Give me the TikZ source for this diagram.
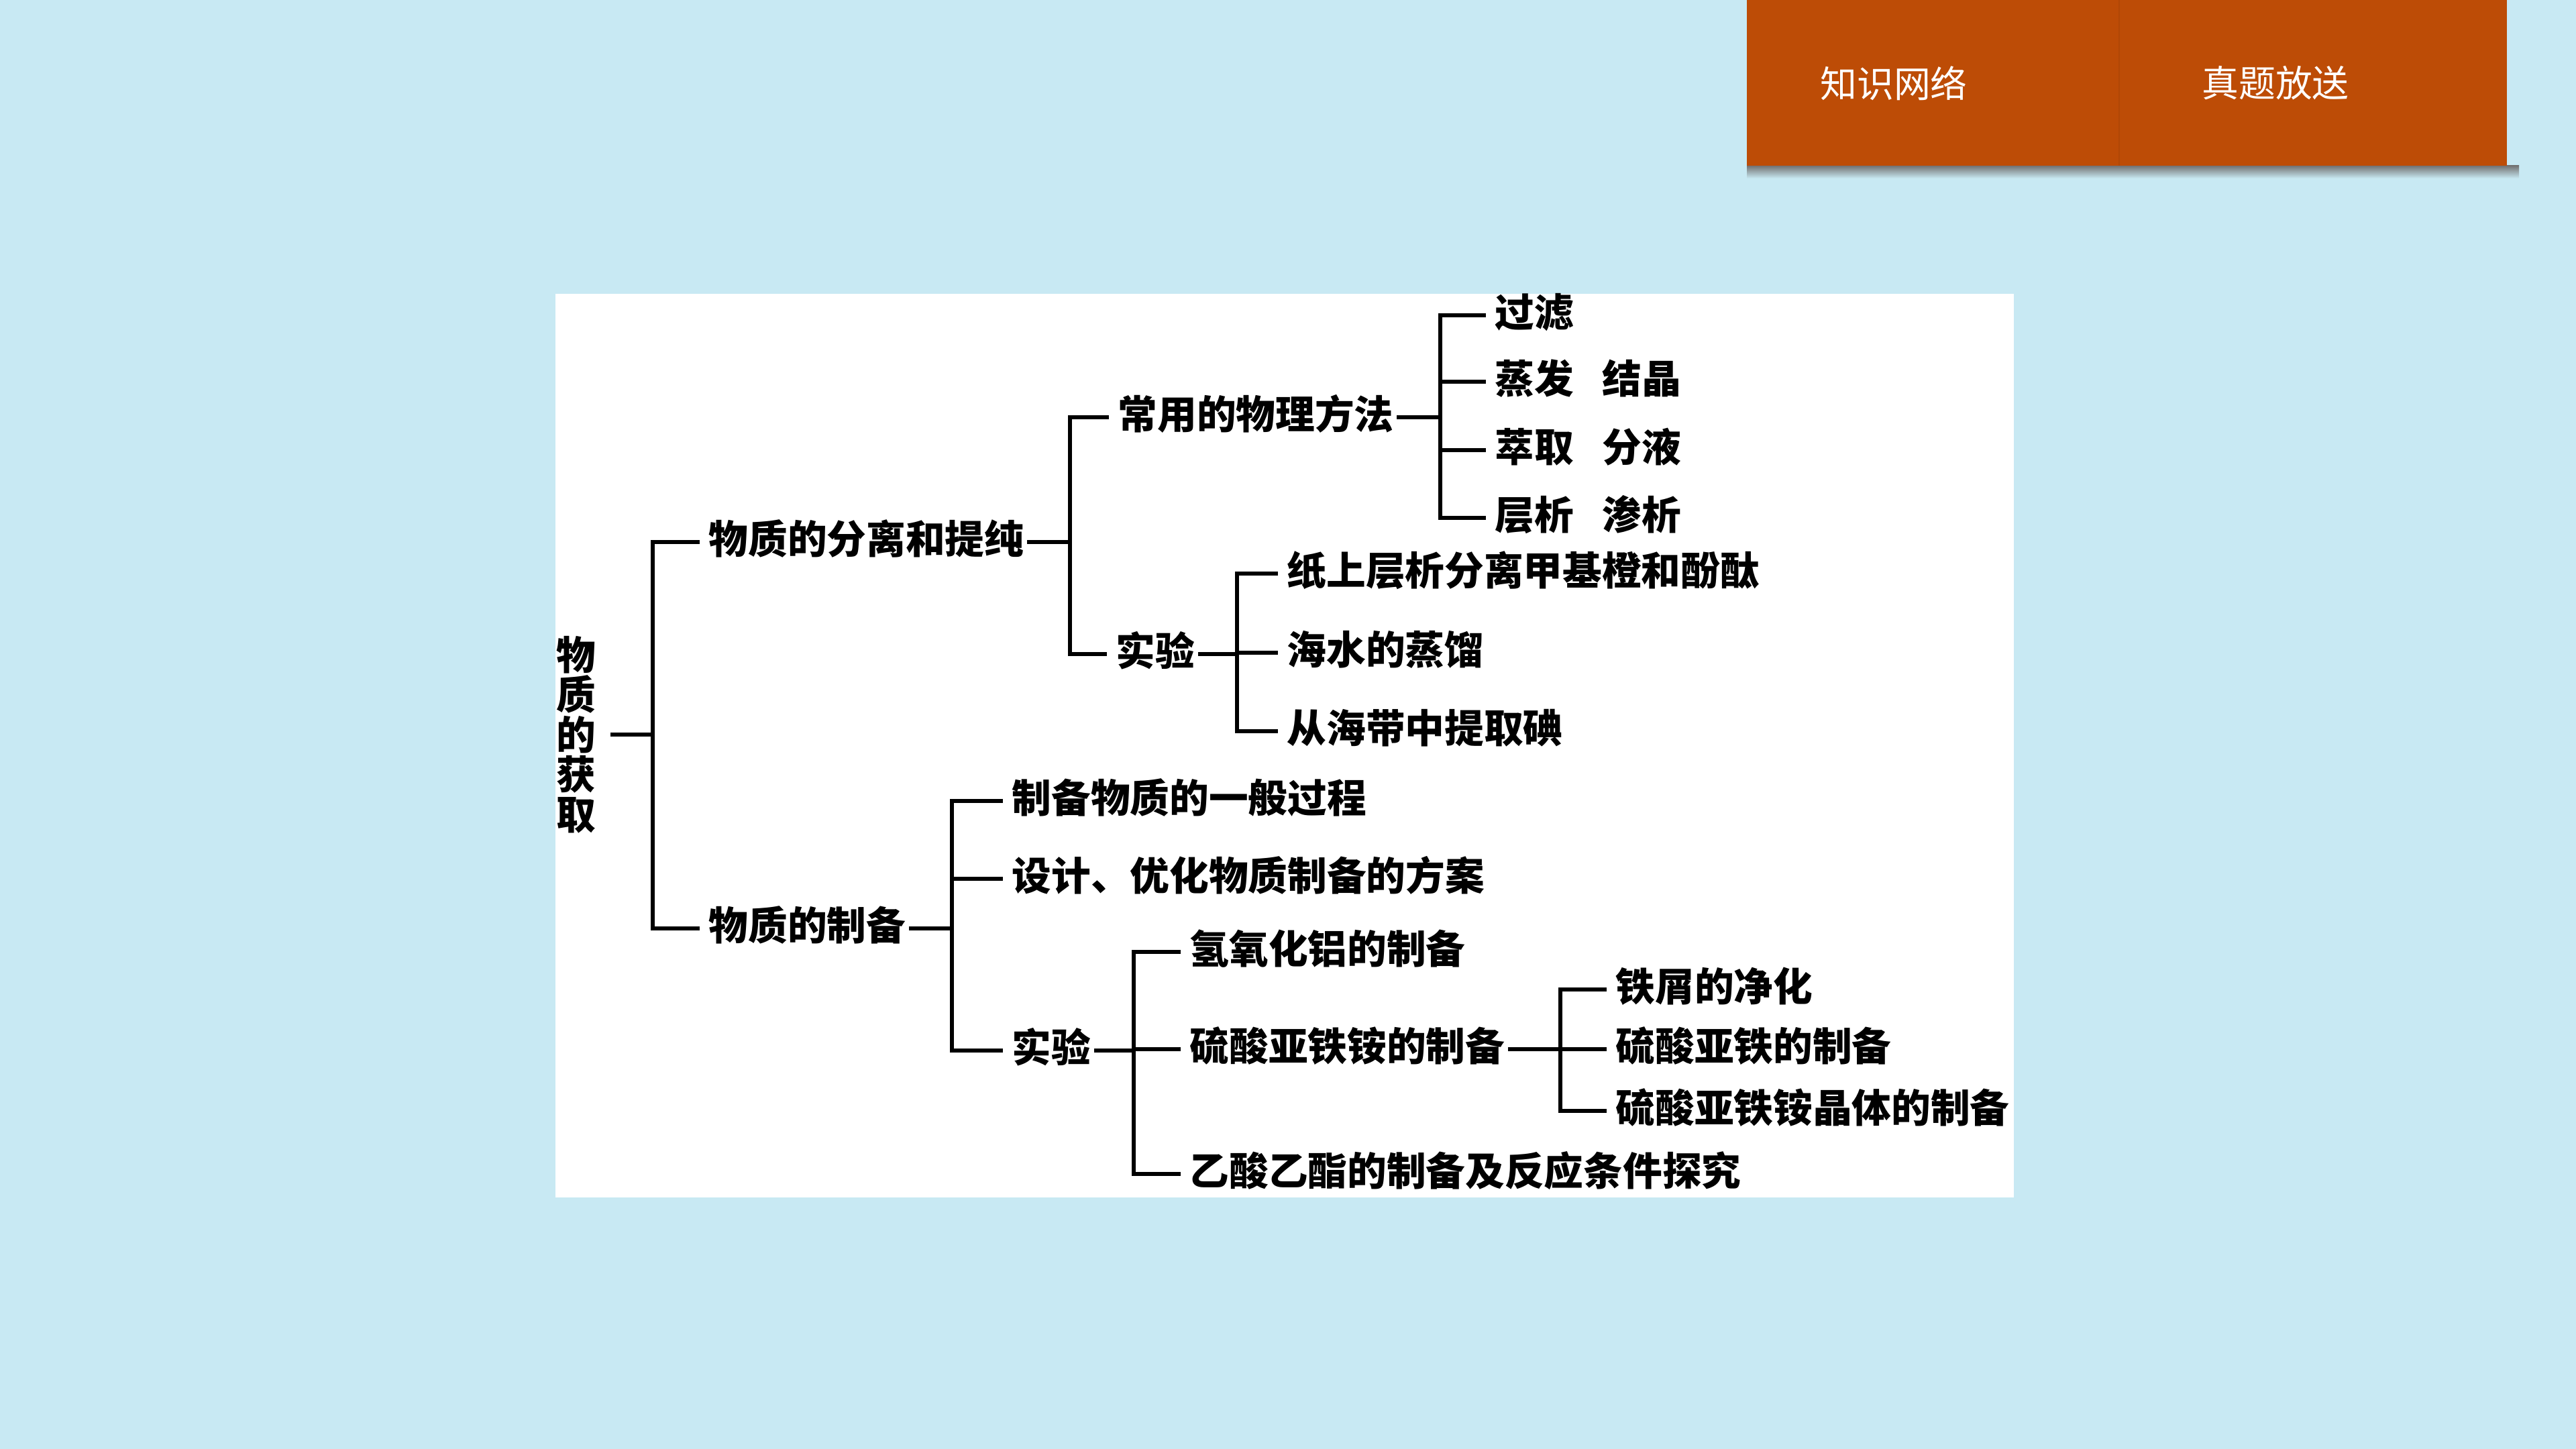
\documentclass[tikz,border=0pt]{standalone}
\usepackage{fontspec}
\setmainfont{Noto Sans CJK SC}
\usepackage{xcolor}
\usepackage{tikz}
\usetikzlibrary{positioning,calc}
\definecolor{bgblue}{RGB}{200,233,243}
\definecolor{taborange}{RGB}{189,76,6}

\begin{document}
\begin{tikzpicture}[
    every node/.style={inner sep=0pt},
    item/.style={anchor=west, font=\fontsize{16.7}{20}\selectfont\bfseries, text height=1.0em, text depth=0em},
    rootbox/.style={align=center, inner xsep=0.17cm, font=\fontsize{16.7}{16.9}\selectfont\bfseries},
    stub/.style={line width=1.9pt, shorten <=0.04cm},
    twig/.style={line width=1.9pt, shorten >=0.13cm},
    fork/.style={line width=1.9pt, shorten <=0.13cm, shorten >=0.13cm},
    tabtxt/.style={text=white, font=\fontsize{15.6}{18}\selectfont},
]

\useasboundingbox (0,0) rectangle (38.4,-21.6);
\fill[bgblue] (0,0) rectangle (38.4,-21.6);

% === TOP TAB ===
\shade[top color=black!55, bottom color=bgblue] (26.04,-2.47) rectangle (37.55,-2.66);
\fill[taborange] (26.04,0) rectangle (37.37,-2.47);
\draw[taborange!93!black, line width=0.4pt] (31.59,0) -- (31.59,-2.47);
\node[tabtxt] (knet) at (28.23,-1.24) {知识网络};
\node[tabtxt] (exam) at (33.92,-1.24) {真题放送};

% === PANEL ===
\fill[white] (8.28,-4.38) rectangle (30.02,-17.85);

% Junction x positions
\coordinate (j0) at (9.73,0);
\coordinate (j1) at (15.95,0);
\coordinate (j2) at (21.47,0);
\coordinate (j3) at (18.44,0);
\coordinate (j4) at (14.19,0);
\coordinate (j5) at (16.90,0);
\coordinate (j6) at (23.26,0);

% Root
\node[rootbox] (root) at (8.59,-10.95) {物\\质\\的\\获\\取};

% Level 1
\node[item] (sep) at (10.56,-8.08) {物质的分离和提纯};
\node[item] (prep) at (10.56,-13.84) {物质的制备};

% Separation branch
\node[item] (phys) at (16.66,-6.22) {常用的物理方法};
\node[item] (expA) at (16.63,-9.75) {实验};

\node[item] (guolv) at (22.28,-4.70) {过滤};
\node[item] (zhengfa) at (22.28,-5.69) {蒸发\hspace{0.72em}结晶};
\node[item] (cuiqu) at (22.28,-6.71) {萃取\hspace{0.72em}分液};
\node[item] (cengxi) at (22.28,-7.72) {层析\hspace{0.72em}渗析};

\node[item] (paper) at (19.18,-8.55) {纸上层析分离甲基橙和酚酞};
\node[item] (seawater) at (19.18,-9.73) {海水的蒸馏};
\node[item] (kelp) at (19.18,-10.90) {从海带中提取碘};

% Preparation branch
\node[item] (general) at (15.08,-11.94) {制备物质的一般过程};
\node[item] (design) at (15.08,-13.10) {设计、优化物质制备的方案};
\node[item] (expB) at (15.08,-15.66) {实验};

\node[item] (aloh) at (17.73,-14.19) {氢氧化铝的制备};
\node[item] (fas) at (17.73,-15.64) {硫酸亚铁铵的制备};
\node[item] (ester) at (17.73,-17.50) {乙酸乙酯的制备及反应条件探究};

\node[item] (iron) at (24.08,-14.75) {铁屑的净化};
\node[item] (feso) at (24.08,-15.64) {硫酸亚铁的制备};
\node[item] (crystal) at (24.08,-16.56) {硫酸亚铁铵晶体的制备};

% Brackets
\draw[stub] (root.east) -- (root.east -| j0);
\draw[fork] (sep.west) -| (j0 |- prep.west) -- (prep.west);

\draw[stub] (sep.east) -- (sep.east -| j1);
\draw[fork] (phys.west) -| (j1 |- expA.west) -- (expA.west);

\draw[stub] (phys.east) -- (phys.east -| j2);
\draw[fork] (guolv.west) -| (j2 |- cengxi.west) -- (cengxi.west);
\foreach \n in {zhengfa,cuiqu}
    \draw[twig] (\n.west -| j2) -- (\n.west);

\draw[stub] (expA.east) -- (expA.east -| j3);
\draw[fork] (paper.west) -| (j3 |- kelp.west) -- (kelp.west);
\draw[twig] (seawater.west -| j3) -- (seawater.west);

\draw[stub] (prep.east) -- (prep.east -| j4);
\draw[fork] (general.west) -| (j4 |- expB.west) -- (expB.west);
\draw[twig] (design.west -| j4) -- (design.west);

\draw[stub] (expB.east) -- (expB.east -| j5);
\draw[fork] (aloh.west) -| (j5 |- ester.west) -- (ester.west);
\draw[twig] (fas.west -| j5) -- (fas.west);

\draw[stub] (fas.east) -- (fas.east -| j6);
\draw[fork] (iron.west) -| (j6 |- crystal.west) -- (crystal.west);
\draw[twig] (feso.west -| j6) -- (feso.west);

\end{tikzpicture}
\end{document}
